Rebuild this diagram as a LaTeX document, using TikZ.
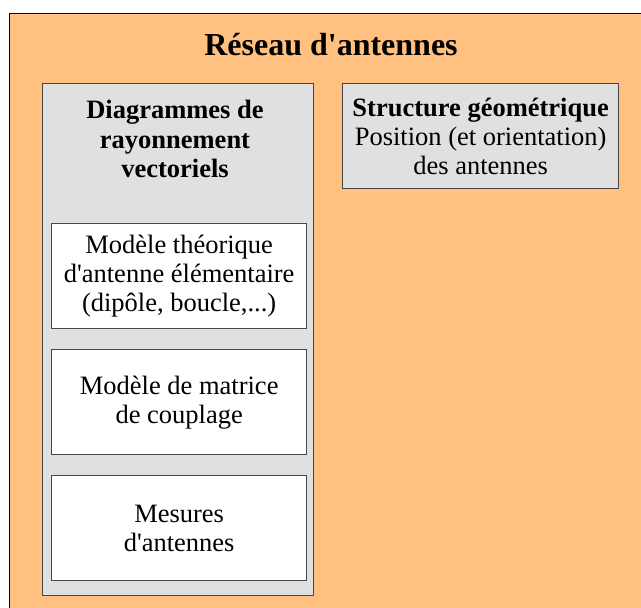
\documentclass[tikz,border=0pt]{standalone}
\usepackage{fontspec}
\setmainfont{Liberation Serif}[Ligatures=TeXOff]
\definecolor{orangebg}{RGB}{255,192,128}
\definecolor{graybg}{RGB}{224,224,224}
\definecolor{edgegray}{RGB}{70,70,70}
\begin{document}
\begin{tikzpicture}[x=1pt,y=-1pt,
  bodyfont/.style={font=\fontsize{26.5}{29}\selectfont},
  panel/.style={draw=edgegray, line width=1.3pt, fill=graybg, inner sep=0pt, anchor=north west},
  whitebox/.style={draw=edgegray, line width=1.3pt, fill=white, inner sep=0pt, anchor=north west,
    minimum width=255pt, minimum height=105pt, align=center, bodyfont}]
\useasboundingbox (0,0) rectangle (641,608);
\clip (0,0) rectangle (641,608);
\node[draw=black, line width=1.3pt, fill=orangebg, inner sep=0pt, anchor=north west,
  minimum width=680pt, minimum height=640pt] (outer) at (9,13) {};
\node[font=\bfseries\fontsize{32}{36}\selectfont] (title) at (331,45) {Réseau d'antennes};
\node[panel, minimum width=271pt, minimum height=512pt] (vect) at (42,83) {};
\node[bodyfont, align=center, font=\bfseries\fontsize{26.5}{29.5}\selectfont] (vecthead) at (175,139)
  {Diagrammes de\\rayonnement\\vectoriels};
\node[panel, minimum width=276pt, minimum height=105pt, align=center, bodyfont] (geo) at (342,83)
  {\textbf{Structure géométrique}\\Position (et orientation)\\des antennes};
\node[whitebox] (theo) at (51,223) {Modèle théorique\\d'antenne élémentaire\\(dipôle, boucle,...)};
\node[whitebox] (coupl) at (51,349) {Modèle de matrice\\de couplage};
\node[whitebox] (mes) at (51,475) {Mesures\\d'antennes};
\end{tikzpicture}
\end{document}
